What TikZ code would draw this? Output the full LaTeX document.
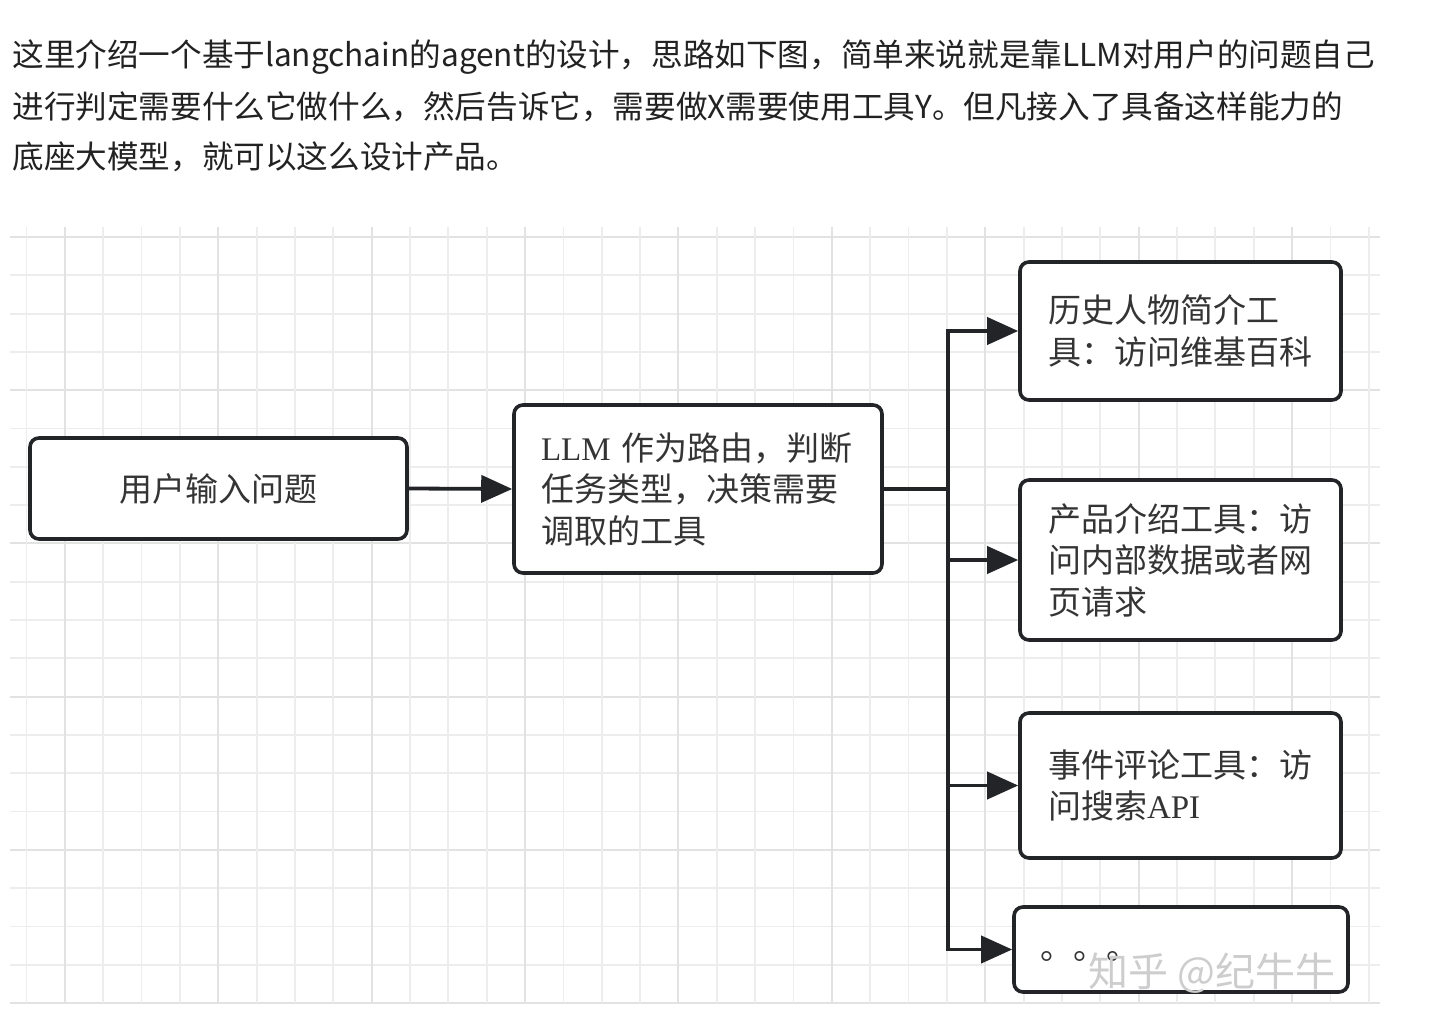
\documentclass[tikz,border=0pt]{standalone}
\usepackage{fontspec}
\newfontfamily\cjk{Noto Sans CJK SC}
\newfontfamily\lserif{Liberation Serif}
\usetikzlibrary{arrows.meta}
\definecolor{edge}{RGB}{34,36,40}
\definecolor{txt}{RGB}{52,52,52}
\definecolor{toptxt}{RGB}{34,34,34}
\definecolor{gridminor}{RGB}{237,237,237}
\definecolor{gridmajor}{RGB}{226,226,226}
\definecolor{wmark}{RGB}{205,205,205}
\begin{document}
\begin{tikzpicture}[x=0.5pt,y=-0.5pt,
  toptext/.style={anchor=west, inner sep=0pt, text=toptxt, font=\cjk\fontsize{15.8}{20}\selectfont},
  box/.style={draw=edge, line width=1.8pt, rounded corners=4.5pt, fill=white, text=txt,
              font=\cjk\fontsize{16.5}{20.75}\selectfont},
  tool/.style={box, align=left, text width=132.5pt, inner xsep=14pt, inner ysep=0pt},
  conn/.style={draw=edge, line width=1.9pt},
  arr/.style={conn, -{Triangle[length=15.5pt,width=13.5pt]}},
  gmin/.style={draw=gridminor, line width=0.9pt},
  gmaj/.style={draw=gridmajor, line width=1pt}]
\useasboundingbox[fill=white] (0,0) rectangle (1440,1016);

% top paragraph
\node[toptext] (t1) at (12,57) {这里介绍一个基于langchain的agent的设计，思路如下图，简单来说就是靠LLM对用户的问题自己};
\node[toptext] (t2) at (12,107) {进行判定需要什么它做什么，然后告诉它，需要做X需要使用工具Y。但凡接入了具备这样能力的};
\node[toptext] (t3) at (12,157) {底座大模型，就可以这么设计产品。};

% grid
\foreach \k in {0,...,20} {
  \pgfmathsetmacro{\yy}{237+38.3*\k}
  \pgfmathtruncatemacro{\m}{mod(\k,4)}
  \ifnum\m=0 \draw[gmaj] (10,\yy) -- (1380,\yy); \else \draw[gmin] (10,\yy) -- (1380,\yy); \fi
}
\foreach \k in {0,...,35} {
  \pgfmathsetmacro{\xx}{26.5+38.35*\k}
  \pgfmathtruncatemacro{\m}{mod(\k,4)}
  \ifnum\m=1 \draw[gmaj] (\xx,227) -- (\xx,1003); \else \draw[gmin] (\xx,227) -- (\xx,1003); \fi
}

% boxes
\node[box, minimum width=188.5pt, minimum height=50.5pt, inner sep=0pt] (b1) at (218.5,488.5) {用户输入问题};
\node[box, align=left, text width=157pt, inner xsep=13.5pt, inner ysep=0pt, minimum height=84pt] (b2) at (698,489)
  {{\lserif LLM} 作为路由，判断\\任务类型，决策需要\\调取的工具};
\node[tool, minimum height=69pt] (b3) at (1180.5,331) {历史人物简介工\\具：访问维基百科};
\node[tool, minimum height=80pt] (b4) at (1180.5,560) {产品介绍工具：访\\问内部数据或者网\\页请求};
\node[tool, minimum height=72.5pt] (b5) at (1180.5,785.5) {事件评论工具：访\\问搜索{\lserif API}};
\node[box, align=left, text width=141pt, inner xsep=13pt, inner ysep=0pt, minimum height=42.5pt] (b6) at (1181,949.5) {\raisebox{-5pt}[0pt][0pt]{。。。}};

% watermark
\node[inner sep=0pt, anchor=west, text=wmark, font=\cjk\fontsize{20}{24}\selectfont] (wm) at (1088,973) {知乎 @纪牛牛};

% connectors
\coordinate (j) at (948,489);
\draw[arr] (b1.east) -- (b2.west);
\draw[conn] (b2.east) -- (j);
\draw[arr] (j) |- (b3.west);
\draw[arr] (j) |- (b4.west);
\draw[arr] (j) |- (b5.west);
\draw[arr] (j) |- (b6.west);
\end{tikzpicture}
\end{document}
